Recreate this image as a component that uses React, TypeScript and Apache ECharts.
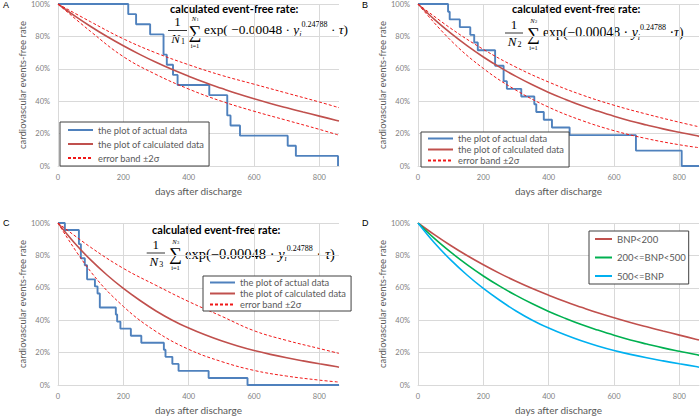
import React, { useEffect, useRef } from 'react';
import * as echarts from 'echarts';

// ---------- data ----------
const X_MAX = 860;
const calcDays = [0, 50, 100, 150, 200, 250, 300, 350, 400, 450, 500, 550, 600, 650, 700, 750, 800, 850, 860];
const calcA = [100, 92.8, 86.1, 79.9, 74.2, 68.9, 64.0, 59.5, 55.4, 51.5, 48.0, 44.6, 41.5, 38.6, 35.9, 33.3, 30.8, 28.3, 27.8];
const calcB = [100, 90.5, 82.0, 74.3, 67.3, 61.0, 55.3, 50.1, 45.4, 41.2, 37.3, 33.9, 30.7, 27.8, 25.3, 22.9, 20.8, 18.8, 18.3];
const calcC = [100, 87.8, 77.2, 67.9, 59.6, 52.3, 45.7, 40.0, 35.2, 31.0, 27.3, 24.1, 21.3, 18.9, 16.8, 14.9, 13.1, 11.4, 11.0];

const bandDays = [0, 100, 200, 300, 400, 500, 600, 700, 800, 860];
const upperA = [100, 89, 78.5, 69.8, 62.5, 56, 50.5, 45, 39.5, 36];
const lowerA = [100, 83, 67.5, 56.5, 47.5, 40, 33.8, 28.2, 22.6, 19];
const upperB = [100, 85, 72, 61, 51.8, 44, 37.5, 32, 27, 24.2];
const lowerB = [100, 77.6, 60.2, 46.8, 36.3, 28.2, 21.8, 16.9, 13.1, 11.3];
const upperC = [100, 85, 72, 61.5, 51.5, 42.5, 33.5, 27.5, 22.5, 19.5];
const lowerC = [100, 70, 48.5, 33, 22, 14.5, 9, 5.5, 3, 1.8];

const actualADays = [0, 215, 239, 282, 323, 333, 352, 366, 463, 518, 528, 557, 703, 728, 857];
const actualAVals = [100, 93.75, 87.5, 81.25, 68.75, 62.5, 56.25, 50, 43.75, 31.25, 25, 18.75, 12.5, 6.25, 0];
const actualBDays = [0, 92, 97, 128, 160, 172, 183, 236, 262, 272, 316, 356, 362, 385, 410, 464, 667, 807, 860];
const actualBVals = [100, 95.24, 90.48, 85.71, 80.95, 76.19, 71.43, 61.9, 52.38, 47.62, 42.86, 38.1, 33.33, 28.57, 23.81, 19.05, 9.52, 0, 0];
const actualCDays = [0, 21, 64, 70, 82, 89, 113, 121, 128, 177, 181, 191, 223, 255, 324, 329, 350, 369, 461, 580, 860];
const actualCVals = [100, 95.65, 86.96, 78.26, 73.91, 65.22, 60.87, 56.52, 47.83, 43.48, 39.13, 34.78, 30.43, 26.09, 21.74, 17.39, 13.04, 8.7, 4.35, 0, 0];

const xTicks = [0, 200, 400, 600, 800];
const panelLetters = ['A', 'B', 'C', 'D'];
const nameActual = 'the plot of actual data';
const nameCalc = 'the plot of calculated data';
const nameBand = 'error band ±2σ';
const bnpNames = ['BNP<200', '200<=BNP<500', '500<=BNP'];

const zip = (xs: number[], ys: number[]) => xs.map((x, i) => [x, ys[i]]);

// ---------- styling ----------
const BLUE = '#4f81bd';
const RED = '#c0504d';
const DASH = '#f01818';
const GREEN = '#00b050';
const CYAN = '#00b0f0';
const GRID = '#d9d9d9';
const SANS = 'Lato';
const SERIF = 'Liberation Serif';

const grids = [
  { left: 58, top: 3, width: 281, height: 163 },
  { left: 418, top: 3, width: 281, height: 163 },
  { left: 58, top: 223, width: 281, height: 164 },
  { left: 418, top: 223, width: 281, height: 164 },
];

function txt(x: number, y: number, text: string, s: any) {
  return {
    type: 'text', x, y, silent: true,
    style: { text, fill: '#000', verticalAlign: 'middle', textVerticalAlign: 'middle', ...s },
  };
}

function formula(f: any) {
  const cx = (f.barL + f.barR) / 2;
  const c = { align: 'center', textAlign: 'center' };
  return [
    txt(f.tx, f.ty, 'calculated event-free rate:', { fontFamily: SANS, fontWeight: 'bold', fontSize: 11 }),
    txt(cx, f.oneY, '1', { fontFamily: SERIF, fontSize: 13, ...c }),
    { type: 'line', silent: true, shape: { x1: f.barL, y1: f.barY, x2: f.barR, y2: f.barY }, style: { stroke: '#000', lineWidth: 0.8 } },
    txt(cx - 2, f.nY, 'N', { fontFamily: SERIF, fontStyle: 'italic', fontSize: 13, ...c }),
    txt(cx + 5.5, f.nY + 3, f.idx, { fontFamily: SERIF, fontSize: 8, ...c }),
    txt(f.sX, f.sY, '∑', { fontFamily: SERIF, fontSize: 18, ...c }),
    txt(f.sX - 1, f.sY - 13, 'N', { fontFamily: SERIF, fontStyle: 'italic', fontSize: 6.5, ...c }),
    txt(f.sX + 2.5, f.sY - 12, f.idx, { fontFamily: SERIF, fontSize: 4.5, ...c }),
    txt(f.sX, f.sY + 13.5, 'i=1', { fontFamily: SERIF, fontSize: 6.5, ...c }),
    txt(f.mX, f.mY, `{r|${f.main}}{it|y}{sub|i}{sup|0.24788}{r|${f.tail}}{it|τ}{r|)}`, {
      align: 'left', textAlign: 'left',
      rich: {
        r: { fontFamily: SERIF, fontSize: f.size, lineHeight: 18 },
        it: { fontFamily: SERIF, fontStyle: 'italic', fontSize: f.size, lineHeight: 18 },
        sub: { fontFamily: SERIF, fontStyle: 'italic', fontSize: 8, lineHeight: 10, verticalAlign: 'bottom' },
        sup: { fontFamily: SERIF, fontSize: 8, lineHeight: 7, verticalAlign: 'top' },
      },
    }),
  ];
}

function buildOption() {
  const xAxis = grids.map((_, i) => ({
    type: 'value', gridIndex: i, min: 0, max: X_MAX, interval: 200,
    name: 'days after discharge', nameLocation: 'middle', nameGap: 20,
    nameTextStyle: { fontFamily: SANS, fontSize: 10, color: '#595959' },
    axisLine: { show: true, lineStyle: { color: GRID } },
    axisTick: { show: false },
    axisLabel: {
      fontFamily: SANS, fontSize: 7.5, color: '#808080', margin: 7, showMaxLabel: false,
      formatter: (v: number) => (xTicks.includes(v) ? String(v) : ''),
    },
    splitLine: { show: true, showMaxLine: false, lineStyle: { color: GRID, width: 1 } },
  }));
  const yAxis = grids.map((_, i) => ({
    type: 'value', gridIndex: i, min: 0, max: 100, interval: 20,
    name: 'cardiovascular events-free rate', nameLocation: 'middle', nameGap: 30,
    nameTextStyle: { fontFamily: SANS, fontSize: 9.5, color: '#595959' },
    axisLine: { show: false }, axisTick: { show: false },
    axisLabel: { fontFamily: SANS, fontSize: 7.5, color: '#808080', margin: 8, formatter: '{value}%' },
    splitLine: { show: true, lineStyle: { color: GRID, width: 1 } },
  }));

  const panels = [
    { ad: actualADays, av: actualAVals, calc: calcA, up: upperA, lo: lowerA },
    { ad: actualBDays, av: actualBVals, calc: calcB, up: upperB, lo: lowerB },
    { ad: actualCDays, av: actualCVals, calc: calcC, up: upperC, lo: lowerC },
  ];
  const series: any[] = [];
  panels.forEach((p, i) => {
    series.push({
      type: 'line', name: nameActual, xAxisIndex: i, yAxisIndex: i, data: zip(p.ad, p.av),
      step: 'end', symbol: 'none', lineStyle: { color: BLUE, width: 1.9 }, itemStyle: { color: BLUE },
    });
    series.push({
      type: 'line', name: nameCalc, xAxisIndex: i, yAxisIndex: i, data: zip(calcDays, p.calc),
      smooth: 0.4, symbol: 'none', lineStyle: { color: RED, width: 1.6 }, itemStyle: { color: RED },
    });
    [p.up, p.lo].forEach((band) => {
      series.push({
        type: 'line', name: nameBand, xAxisIndex: i, yAxisIndex: i, data: zip(bandDays, band),
        smooth: 0.4, symbol: 'none',
        lineStyle: { color: DASH, width: 1, type: [3, 2] }, itemStyle: { color: DASH },
      });
    });
  });
  [calcA, calcB, calcC].forEach((c, k) => {
    series.push({
      type: 'line', name: bnpNames[k], xAxisIndex: 3, yAxisIndex: 3, data: zip(calcDays, c),
      smooth: 0.4, symbol: 'none',
      lineStyle: { color: [RED, GREEN, CYAN][k], width: 1.6 }, itemStyle: { color: [RED, GREEN, CYAN][k] },
    });
  });

  const legBase = {
    orient: 'vertical', itemWidth: 25, borderColor: '#404040', borderWidth: 1, backgroundColor: '#fff',
    selectedMode: false, itemStyle: { opacity: 0 },
  };
  const legend = [
    { ...legBase, data: [nameActual, nameCalc, nameBand], left: 60, top: 122, padding: [2, 5, 2, 7], itemGap: 2, itemHeight: 12,
      textStyle: { fontFamily: SANS, fontSize: 9.3, color: '#595959', lineHeight: 12 } },
    { ...legBase, data: [nameActual, nameCalc, nameBand], left: 421, top: 132, padding: [1, 5, 1, 6], itemGap: 0, itemHeight: 11,
      textStyle: { fontFamily: SANS, fontSize: 9.3, color: '#595959', lineHeight: 11 } },
    { ...legBase, data: [nameActual, nameCalc, nameBand], left: 203, top: 276, padding: [1, 5, 1, 6], itemGap: 0, itemHeight: 11,
      textStyle: { fontFamily: SANS, fontSize: 9.3, color: '#595959', lineHeight: 11 } },
    { ...legBase, data: bnpNames, left: 589, top: 231, padding: [2, 3, 2, 5], itemGap: 6.5, itemWidth: 17, itemHeight: 12,
      textStyle: { fontFamily: SANS, fontSize: 9.5, color: '#595959', lineHeight: 12 } },
  ];

  const letterPos = [[3, 5], [362, 5], [3, 222.5], [362, 222.5]];
  const graphics: any[] = panelLetters.map((l, i) =>
    txt(letterPos[i][0], letterPos[i][1], l, { fontFamily: 'Liberation Sans', fontSize: 9 }));
  graphics.push(...formula({ tx: 170, ty: 8, barL: 168, barR: 187, barY: 30.5, oneY: 21.5, nY: 38.5, idx: '1', sX: 195, sY: 31.5, mX: 204, mY: 29, size: 13.4, main: 'exp( −0.00048 · ', tail: ' · ' }));
  graphics.push(...formula({ tx: 512, ty: 8.5, barL: 505, barR: 523, barY: 33, oneY: 24, nY: 41.5, idx: '2', sX: 533.5, sY: 33.5, mX: 543, mY: 32, size: 13.8, main: 'exp(−0.00048 · ', tail: ' ·' }));
  graphics.push(...formula({ tx: 152, ty: 229, barL: 146.7, barR: 165, barY: 253, oneY: 244.5, nY: 261, idx: '3', sX: 175.5, sY: 254, mX: 185, mY: 253.5, size: 14.5, main: 'exp(−0.00048 · ', tail: ' · ' }));

  return {
    animation: false,
    backgroundColor: '#fff',
    grid: grids.map((g) => ({ ...g, containLabel: false })),
    xAxis, yAxis, series, legend,
    graphic: { elements: graphics },
  };
}

export default function App() {
  const ref = useRef<HTMLDivElement>(null);
  useEffect(() => {
    if (!ref.current) return;
    const chart = echarts.init(ref.current, undefined, { renderer: 'svg' });
    chart.setOption(buildOption() as any);
    return () => chart.dispose();
  }, []);
  return <div ref={ref} style={{ position: 'fixed', left: 0, top: 0, width: 700, height: 416, background: '#fff' }} />;
}
